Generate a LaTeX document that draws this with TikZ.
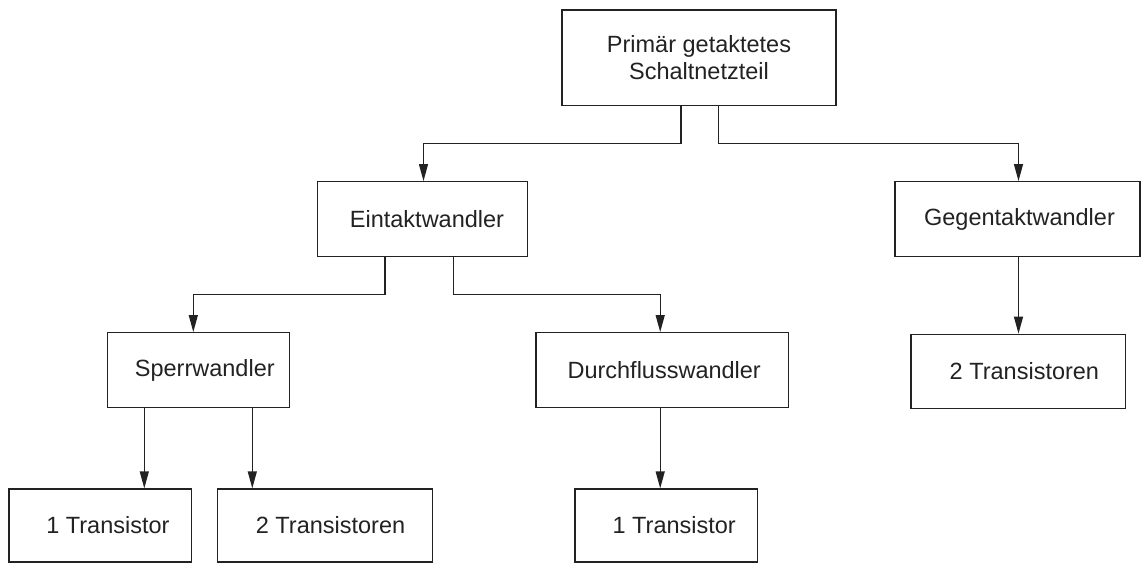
\documentclass[tikz,border=0pt]{standalone}
\usepackage{fontspec}
\setmainfont{Liberation Sans}
\usetikzlibrary{arrows.meta}
\definecolor{ink}{HTML}{222222}
\tikzset{
  box/.style 2 args={draw=ink, line width=1.3pt, minimum width=#1pt, minimum height=#2pt,
    inner sep=0pt, text=ink, font=\fontsize{23.5pt}{27.5pt}\selectfont, align=center},
  conn/.style={draw=ink, line width=1.3pt, -{Triangle[length=17pt,width=9pt]}}
}
\begin{document}
\begin{tikzpicture}[x=1pt,y=-1pt]
\useasboundingbox (0,0) rectangle (1141,563);
\node[box={274}{95.3}] (top) at (699,57.7) {Primär getaktetes\\Schaltnetzteil};
\node[box={210.4}{75}] (eint) at (422.5,219.2) {\hspace*{9pt}Eintaktwandler};
\node[box={245}{75}] (gegen) at (1017.5,219.2) {\hspace*{4pt}Gegentaktwandler};
\node[box={182}{75}] (sperr) at (198.3,370.2) {\hspace*{13pt}Sperrwandler};
\node[box={252.3}{75}] (durch) at (662.2,370.2) {\hspace*{4pt}Durchflusswandler};
\node[box={214.7}{74}] (t2r) at (1018.4,371.3) {\hspace*{12pt}2 Transistoren};
\node[box={182.7}{73}] (t1a) at (100.4,525.5) {\hspace*{15pt}1 Transistor};
\node[box={214.6}{73}] (t2a) at (325,525.5) {\hspace*{11pt}2 Transistoren};
\node[box={182.3}{73}] (t1b) at (666.2,525.5) {\hspace*{16pt}1 Transistor};

\draw[conn] ([xshift=-18pt]top.south) -- ++(0,37.4) -| ([xshift=1pt]eint.north);
\draw[conn] ([xshift=19.5pt]top.south) -- ++(0,37.4) -| ([xshift=1pt]gegen.north);
\draw[conn] ([xshift=-37.5pt]eint.south) -- ++(0,37.3) -| ([xshift=-5pt]sperr.north);
\draw[conn] ([xshift=30.8pt]eint.south) -- ++(0,37.3) -| ([xshift=-2pt]durch.north);
\draw[conn] ([xshift=-54pt]sperr.south) -- ([xshift=-54pt]sperr.south |- t1a.north);
\draw[conn] ([xshift=54pt]sperr.south) -- ([xshift=54pt]sperr.south |- t2a.north);
\draw[conn] ([xshift=-2pt]durch.south) -- ([xshift=-2pt]durch.south |- t1b.north);
\draw[conn] ([xshift=1pt]gegen.south) -- ([xshift=1pt]gegen.south |- t2r.north);
\end{tikzpicture}
\end{document}
